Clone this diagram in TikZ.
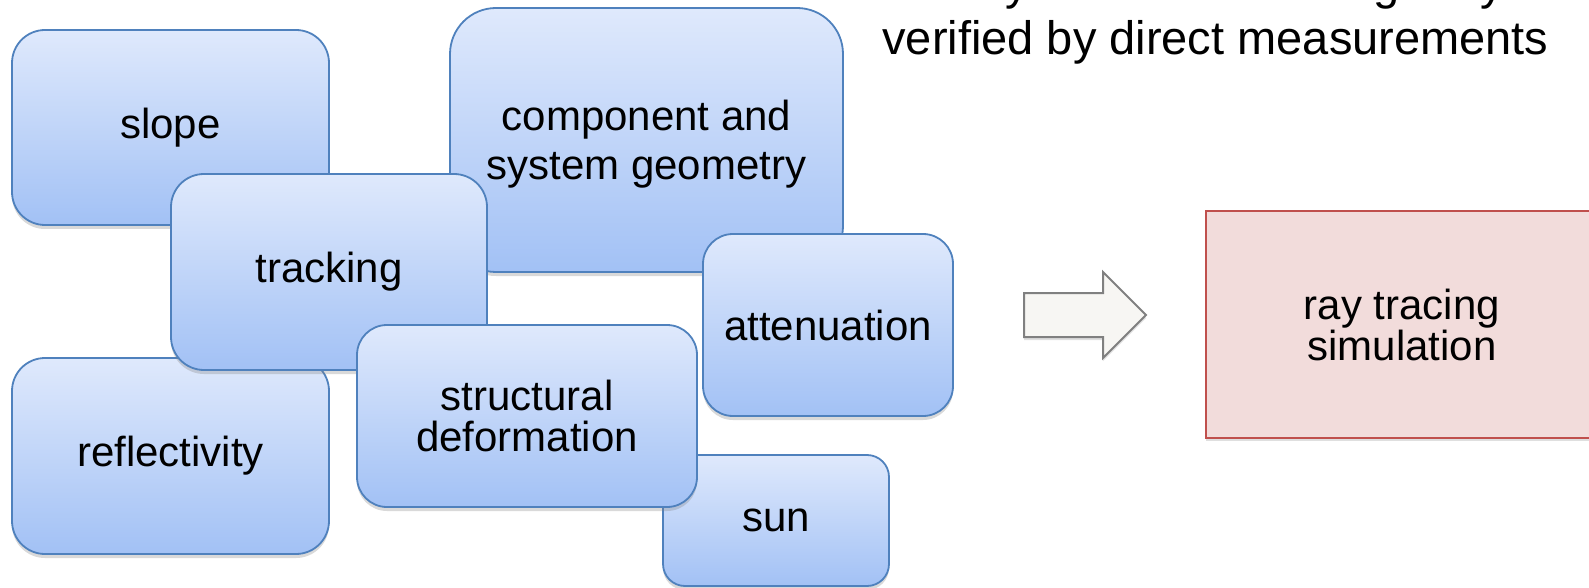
\documentclass[tikz,border=0pt]{standalone}
\usepackage{fontspec}
\setmainfont{Liberation Sans}
\usetikzlibrary{shadows}

\definecolor{cardtop}{RGB}{223,233,252}
\definecolor{cardbot}{RGB}{162,193,245}
\definecolor{cardline}{RGB}{79,129,189}
\definecolor{simfill}{RGB}{242,220,219}
\definecolor{simline}{RGB}{192,80,77}
\definecolor{arrfill}{RGB}{247,246,243}
\definecolor{arrline}{RGB}{128,128,128}

\begin{document}
\begin{tikzpicture}[x=0.5pt, y=-0.5pt,
	card/.style={draw=cardline, line width=0.9pt, top color=cardtop, bottom color=cardbot,
		drop shadow={shadow xshift=0pt, shadow yshift=-2pt, opacity=0.3},
		align=center, inner sep=0pt, font=\fontsize{21}{24.5}\selectfont},
	sim/.style={draw=simline, line width=1pt, fill=simfill,
		drop shadow={shadow xshift=0pt, shadow yshift=-1.5pt, opacity=0.25},
		align=center, inner sep=0pt, font=\fontsize{21}{20.5}\selectfont},
	note/.style={anchor=base west, inner sep=0pt, font=\fontsize{23.5}{27.5}\selectfont}]
			\useasboundingbox (0,0) rectangle (1589,588);
			\clip (0,0) rectangle (1589,588);

			\node[card, minimum width=158.5pt, minimum height=97.5pt, rounded corners=16.5pt] (slope) at (170.5,127.5) {slope};
			\node[card, minimum width=196.5pt, minimum height=132pt, rounded corners=23pt, text depth=-2pt] (geom) at (646.5,140) {component and\\system geometry};
			\node[card, minimum width=158.5pt, minimum height=98pt, rounded corners=16.5pt] (refl) at (170.5,456) {reflectivity};
			\node[card, minimum width=158pt, minimum height=98pt, rounded corners=16.5pt] (track) at (329,272) {tracking};
			\node[card, minimum width=125pt, minimum height=91pt, rounded corners=15pt] (atten) at (828,325) {attenuation};
			\node[card, minimum width=113pt, minimum height=65.5pt, rounded corners=11pt] (sun) at (776,520.5) {sun};
			\node[card, minimum width=170pt, minimum height=91pt, rounded corners=15pt, font=\fontsize{21}{20.3}\selectfont] (struct) at (527,416) {structural\\deformation};

			\draw[draw=arrline, line width=1pt, fill=arrfill,
				drop shadow={shadow xshift=0pt, shadow yshift=-1.5pt, opacity=0.25}]
				(1024,293) -- (1103,293) -- (1103,272) -- (1146,315) -- (1103,358) -- (1103,337) -- (1024,337) -- cycle;

			\node[sim, minimum width=196pt, minimum height=113.5pt] (raysim) at (1402,324.5) {ray tracing\\simulation};

			\node[note] (note1) at (882,0) {exactly calculated through ray tracing and};
			\node[note] (note2) at (882,55) {verified by direct measurements};
		\end{tikzpicture}
\end{document}
